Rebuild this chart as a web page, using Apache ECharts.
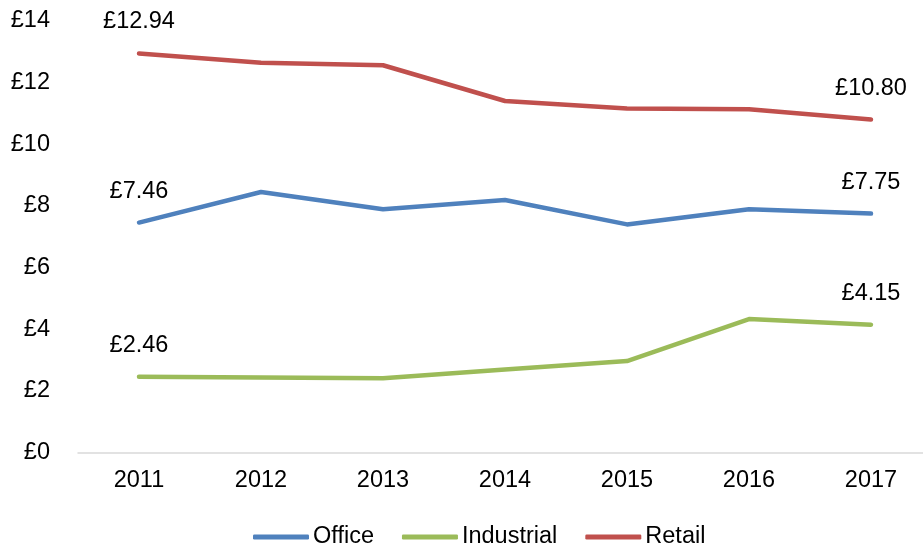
<!DOCTYPE html>
<html>
<head>
<meta charset="utf-8">
<script src="https://cdn.jsdelivr.net/npm/echarts@6/dist/echarts.min.js"></script>
<style>
  html, body { margin: 0; padding: 0; background: #fff; overflow: hidden; }
  #chart { width: 932px; height: 547px; }
</style>
</head>
<body>
<div id="chart"></div>
<script>
// Rental values (£ per sq ft) by sector
const years = ['2011', '2012', '2013', '2014', '2015', '2016', '2017'];
const office = [7.46, 8.45, 7.89, 8.19, 7.40, 7.89, 7.75];
const industrial = [2.46, 2.44, 2.41, 2.70, 2.97, 4.33, 4.15];
const retail = [12.94, 12.64, 12.56, 11.40, 11.16, 11.13, 10.80];
const yTicks = { min: 0, max: 14, interval: 2 };

const FONT = 'Liberation Sans, Arial, sans-serif';
const TEXT = '#000000';
const SIZE = 23.5;

function lineSeries(name, values, color) {
  const last = values.length - 1;
  return {
    name: name,
    type: 'line',
    data: values,
    symbol: 'circle',
    symbolSize: 1,
    showSymbol: true,
    showAllSymbol: true,
    lineStyle: { color: color, width: 4.5, cap: 'round', join: 'round' },
    itemStyle: { color: color },
    // Only the first and last point of each line carry a value label
    label: {
      show: true,
      position: 'top',
      distance: 19,
      color: TEXT,
      fontSize: SIZE,
      fontFamily: FONT,
      formatter: function (p) {
        return (p.dataIndex === 0 || p.dataIndex === last) ? '£' + p.value.toFixed(2) : '';
      }
    },
    emphasis: { disabled: true },
    animation: false
  };
}

const chart = echarts.init(document.getElementById('chart'), null, { renderer: 'canvas' });
chart.setOption({
  backgroundColor: '#ffffff',
  textStyle: { fontFamily: FONT },
  grid: { left: 78, right: 0, top: 20.8, bottom: 94.3, containLabel: false },
  legend: {
    left: 248,
    top: 520,
    itemWidth: 56,
    itemHeight: 5,
    itemGap: 28,
    icon: 'roundRect',
    textStyle: { color: TEXT, fontSize: SIZE, fontFamily: FONT, padding: [0, 0, 0, -1] },
    data: ['Office', 'Industrial', 'Retail']
  },
  xAxis: {
    type: 'category',
    data: years,
    boundaryGap: true,
    axisLine: { show: true, lineStyle: { color: '#d9d9d9', width: 1.5 } },
    axisTick: { show: false },
    axisLabel: { color: TEXT, fontSize: SIZE, fontFamily: FONT, margin: 16 },
    splitLine: { show: false }
  },
  yAxis: {
    type: 'value',
    min: yTicks.min,
    max: yTicks.max,
    interval: yTicks.interval,
    axisLine: { show: false },
    axisTick: { show: false },
    splitLine: { show: false },
    axisLabel: {
      color: TEXT, fontSize: SIZE, fontFamily: FONT, margin: 28,
      formatter: function (v) { return '£' + v; }
    }
  },
  series: [
    lineSeries('Office', office, '#4F81BD'),
    lineSeries('Industrial', industrial, '#9BBB59'),
    lineSeries('Retail', retail, '#C0504D')
  ]
});
</script>
</body>
</html>
